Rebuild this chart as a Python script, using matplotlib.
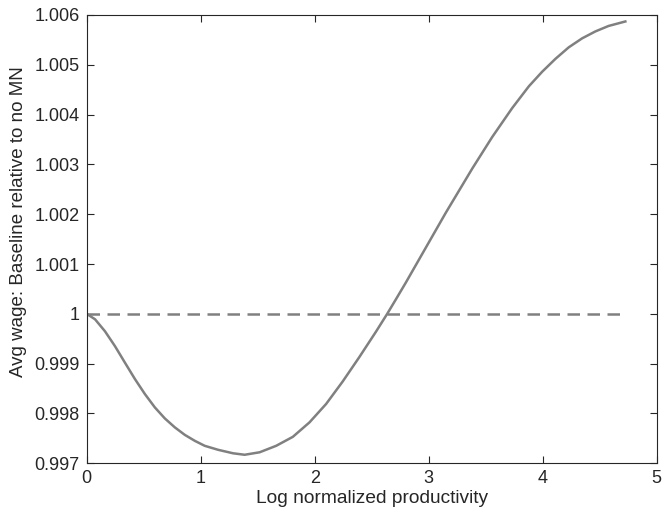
import matplotlib
matplotlib.use("Agg")
import numpy as np
from matplotlib import pyplot as plt

# values
log_prod = [0, 0.073, 0.16, 0.248, 0.335, 0.423, 0.51, 0.598, 0.685, 0.773,
            0.86, 0.948, 1.035, 1.152, 1.283, 1.385, 1.517, 1.662, 1.808,
            1.954, 2.10, 2.245, 2.391, 2.537, 2.636, 2.712, 2.8, 3.0, 3.15,
            3.383, 3.557, 3.732, 3.879, 3.995, 4.112, 4.228, 4.345, 4.462,
            4.578, 4.725]
avg_wage = [1.0, 0.99989, 0.99965, 0.99935, 0.99902, 0.99869, 0.99839,
            0.99812, 0.99790, 0.99772, 0.99757, 0.99745, 0.99735, 0.99727,
            0.99720, 0.99717, 0.99722, 0.99735, 0.99753, 0.99782, 0.99819,
            0.99864, 0.99913, 0.99964, 1.0, 1.00029, 1.00063, 1.00143,
            1.00203, 1.00292, 1.00355, 1.00413, 1.00457, 1.00486, 1.00512,
            1.00535, 1.00553, 1.00567, 1.00578, 1.00587]
baseline = 1.0

xticks = [0, 1, 2, 3, 4, 5]
yticks = [0.997, 0.998, 0.999, 1.0, 1.001, 1.002, 1.003, 1.004, 1.005, 1.006]
ytick_labels = ["0.997", "0.998", "0.999", "1", "1.001", "1.002", "1.003",
                "1.004", "1.005", "1.006"]

plt.rcParams['font.family'] = ['Liberation Sans', 'DejaVu Sans']

fig = plt.figure(figsize=(6.62, 5.17), dpi=100)
ax = fig.add_axes([0.131, 0.104, 0.861, 0.867])

line_col = "#808080"
ax.plot(log_prod, avg_wage, color=line_col, linewidth=1.8,
        solid_joinstyle="round")
ax.plot([log_prod[0], log_prod[-1]], [baseline, baseline], color=line_col,
        linewidth=1.8, linestyle=(0, (5, 3)))

ax.set_xlim(0, 5)
ax.set_ylim(0.997, 1.006)
ax.set_xticks(xticks)
ax.set_xticklabels([str(t) for t in xticks])
ax.set_yticks(yticks)
ax.set_yticklabels(ytick_labels)

axis_col = "#262626"
for s in ax.spines.values():
    s.set_color(axis_col)
    s.set_linewidth(0.8)
ax.tick_params(direction="in", top=True, right=True, length=5,
               width=0.8, color=axis_col, labelcolor=axis_col,
               labelsize=13, pad=5)

ax.set_xlabel("Log normalized productivity", fontsize=13.8, color=axis_col,
              labelpad=2)
ax.set_ylabel("Avg wage: Baseline relative to no MN", fontsize=13.5,
              color=axis_col)
ax.yaxis.set_label_coords(-0.105, 0.539)

plt.savefig("out.png", dpi=100)
